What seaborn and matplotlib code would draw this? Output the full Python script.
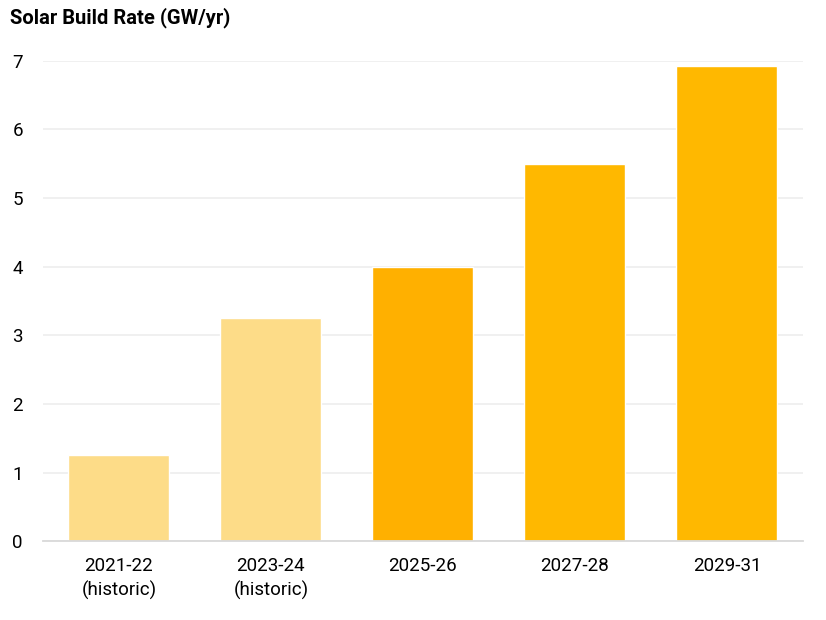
import seaborn as sns
import pandas as pd
import matplotlib.pyplot as plt

# Chart data
periods = ['2021-22\n(historic)', '2023-24\n(historic)', '2025-26', '2027-28', '2029-31']
build_rate = [1.25, 3.25, 4.0, 5.5, 6.92]
bar_colors = ['#FDDC88', '#FDDC88', '#FFB000', '#FFB800', '#FFB800']
y_ticks = [0, 1, 2, 3, 4, 5, 6, 7]

df = pd.DataFrame({'period': periods, 'rate': build_rate})

sns.set_theme(style='white')
plt.rcParams['font.family'] = ['Roboto', 'DejaVu Sans']

fig = plt.figure(figsize=(8.26, 6.2), dpi=100)
ax = fig.add_axes([0.052, 0.127, 0.920, 0.775])

sns.barplot(data=df, x='period', y='rate', hue='period', palette=bar_colors,
            legend=False, width=0.665, saturation=1, ax=ax)

ax.set_ylim(0, 7)
ax.set_xlim(-0.5, 4.5)
ax.set_yticks(y_ticks)
ax.set_axisbelow(True)
ax.yaxis.grid(True, color='#EDEDED', linewidth=1.2)
for s in ['top', 'right', 'left']:
    ax.spines[s].set_visible(False)
ax.spines['bottom'].set_color('#D9D9D9')
ax.spines['bottom'].set_linewidth(1.3)
ax.tick_params(axis='both', length=0, labelsize=13.5, colors='#000000')
ax.tick_params(axis='x', pad=11)
ax.tick_params(axis='y', pad=22)
for lbl in ax.get_yticklabels():
    lbl.set_horizontalalignment('left')
for lbl in ax.get_xticklabels():
    lbl.set_linespacing(1.45)
ax.set_xlabel('')
ax.set_ylabel('')

fig.text(0.012, 0.988, 'Solar Build Rate (GW/yr)', fontsize=14.5, fontweight='bold',
         color='#000000', ha='left', va='top')

fig.savefig('out.png', dpi=100)
